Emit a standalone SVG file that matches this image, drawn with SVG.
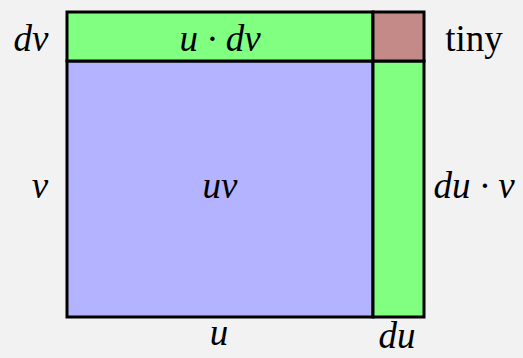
<svg xmlns="http://www.w3.org/2000/svg" width="523" height="358" viewBox="0 0 523 358">
<style>
.m{font-family:"Liberation Serif","DejaVu Serif",serif;font-style:italic;font-size:37px;fill:#000}
.r{font-family:"Liberation Serif","DejaVu Serif",serif;font-size:37px;fill:#000}
.box{stroke:#000;stroke-width:3}
</style>
<rect x="0" y="0" width="523" height="358" fill="#f2f2f2"/>
<g id="uv"><rect class="box" x="67" y="61" width="306" height="256" fill="#b3b3ff"/><text class="m" x="220" y="198" text-anchor="middle">uv</text></g>
<g id="udv"><rect class="box" x="67" y="12" width="306" height="49" fill="#80ff80"/><text class="m" x="220" y="51" text-anchor="middle">u · dv</text></g>
<g id="duv"><rect class="box" x="373" y="61" width="51" height="256" fill="#80ff80"/></g>
<g id="tinybox"><rect class="box" x="373" y="12" width="51" height="49" fill="#c48a88"/></g>
<g id="labels">
<text class="m" x="31" y="51" text-anchor="middle">dv</text>
<text class="r" x="474" y="51" text-anchor="middle">tiny</text>
<text class="m" x="40" y="198" text-anchor="middle">v</text>
<text class="m" x="474" y="198" text-anchor="middle">du · v</text>
<text class="m" x="219" y="345" text-anchor="middle">u</text>
<text class="m" x="397" y="348" text-anchor="middle">du</text>
</g>
<g id="connectors"/>
</svg>
